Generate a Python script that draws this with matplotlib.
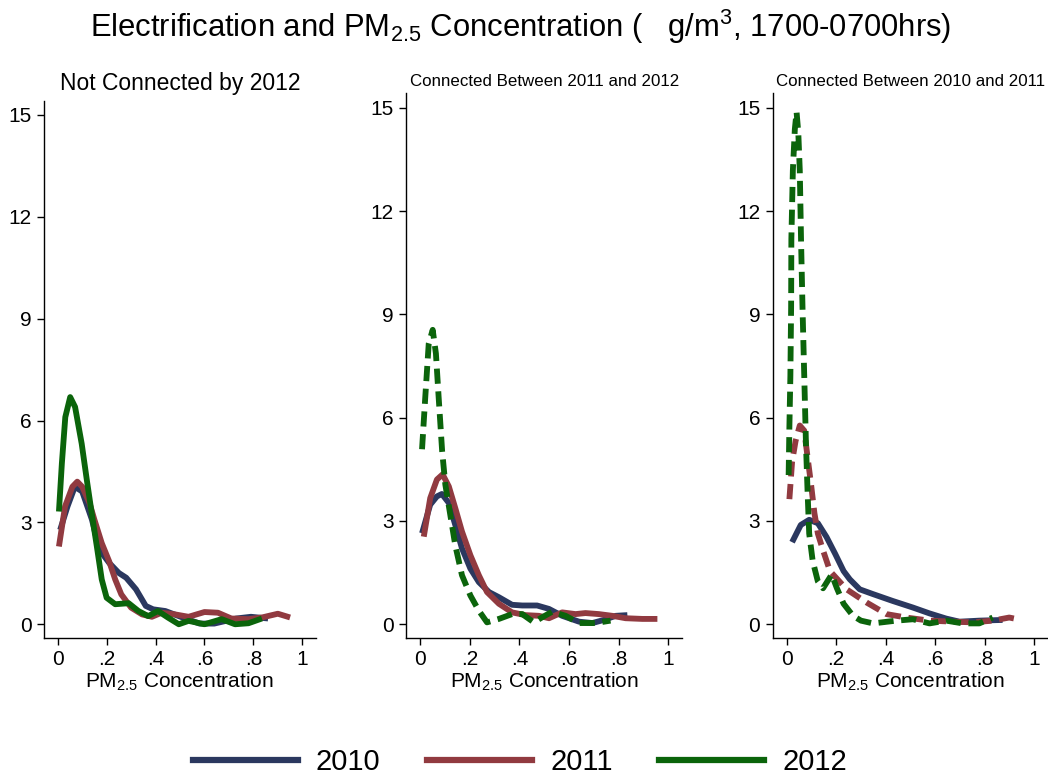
"""Kernel densities of PM2.5 by electrification group (Stata-style look)."""

import matplotlib

matplotlib.use("Agg")
import matplotlib.pyplot as plt
from matplotlib import font_manager
from matplotlib.lines import Line2D

names = {f.name for f in font_manager.fontManager.ttflist}
NARROW = "Liberation Sans Narrow" if "Liberation Sans Narrow" in names else "Liberation Sans"
# no condensed face -> shrink a bit so the width matches
TITLE_SIZE = 24 if NARROW.endswith("Narrow") else 22.3
LEGEND_SIZE = 23 if NARROW.endswith("Narrow") else 21

plt.rcParams["font.family"] = ["Liberation Sans", "DejaVu Sans"]
plt.rcParams["mathtext.default"] = "regular"

years = ["2010", "2011", "2012"]
colors = ["#2b385f", "#913a40", "#0b640b"]
panel_titles = ["Not Connected by 2012",
                "Connected Between 2011 and 2012",
                "Connected Between 2010 and 2011"]

# --- Not connected by 2012
nc_2010_x = [0.01, 0.04, 0.07, 0.10, 0.14, 0.17, 0.21, 0.25, 0.28, 0.32, 0.36, 0.39,
             0.44, 0.51, 0.58, 0.64, 0.73, 0.79, 0.86]
nc_2010_y = [2.78, 3.47, 4.05, 3.91, 3.08, 2.20, 1.81, 1.51, 1.37, 1.03, 0.54, 0.44,
             0.39, 0.20, 0.02, 0.02, 0.17, 0.22, 0.17]
nc_2011_x = [0.005, 0.03, 0.06, 0.08, 0.10, 0.13, 0.15, 0.18, 0.21, 0.235, 0.26, 0.30,
             0.345, 0.385, 0.425, 0.48, 0.535, 0.60, 0.655, 0.71, 0.78, 0.835, 0.90, 0.95]
nc_2011_y = [2.29, 3.47, 4.05, 4.20, 4.05, 3.57, 3.08, 2.39, 1.86, 1.32, 0.88, 0.49,
             0.29, 0.22, 0.34, 0.29, 0.22, 0.36, 0.34, 0.17, 0.15, 0.20, 0.31, 0.20]
nc_2012_x = [0.005, 0.017, 0.031, 0.051, 0.071, 0.098, 0.119, 0.139, 0.16, 0.18, 0.20,
             0.235, 0.29, 0.33, 0.37, 0.41, 0.45, 0.495, 0.535, 0.60, 0.67, 0.725, 0.78, 0.835]
nc_2012_y = [3.32, 4.74, 6.10, 6.69, 6.40, 5.32, 4.25, 3.27, 2.29, 1.32, 0.78,
             0.59, 0.62, 0.39, 0.24, 0.39, 0.20, 0.0, 0.10, 0.0, 0.15, 0.0, 0.03, 0.17]

# --- Connected between 2011 and 2012
c12_2010_x = [0.007, 0.04, 0.067, 0.087, 0.115, 0.141, 0.168, 0.202, 0.236, 0.277, 0.317,
              0.37, 0.411, 0.471, 0.519, 0.572, 0.64, 0.694, 0.74, 0.788, 0.835]
c12_2010_y = [2.64, 3.47, 3.71, 3.78, 3.52, 2.88, 2.20, 1.61, 1.22, 0.93, 0.78,
              0.56, 0.54, 0.54, 0.44, 0.24, 0.07, 0.03, 0.12, 0.24, 0.26]
c12_2011_x = [0.014, 0.04, 0.067, 0.09, 0.115, 0.141, 0.168, 0.202, 0.236, 0.269, 0.317,
              0.37, 0.424, 0.478, 0.519, 0.572, 0.626, 0.666, 0.72, 0.774, 0.828, 0.895, 0.956]
c12_2011_y = [2.54, 3.66, 4.20, 4.35, 4.00, 3.37, 2.69, 2.00, 1.42, 0.93, 0.59,
              0.34, 0.26, 0.24, 0.17, 0.34, 0.29, 0.32, 0.29, 0.24, 0.17, 0.15, 0.15]
c12_2012_x = [0.007, 0.02, 0.034, 0.05, 0.063, 0.074, 0.088, 0.101, 0.121, 0.141, 0.168,
              0.202, 0.236, 0.269, 0.317, 0.37, 0.411, 0.458, 0.492, 0.532, 0.586, 0.64,
              0.707, 0.767]
c12_2012_y = [5.08, 6.59, 8.15, 8.55, 7.86, 6.59, 5.03, 4.05, 3.17, 2.29, 1.42,
              0.83, 0.39, 0.05, 0.15, 0.29, 0.29, 0.05, 0.20, 0.36, 0.24, 0.03,
              0.03, 0.10]

# --- Connected between 2010 and 2011
c11_2010_x = [0.022, 0.057, 0.091, 0.126, 0.161, 0.196, 0.23, 0.255, 0.295, 0.349, 0.429,
              0.51, 0.577, 0.644, 0.698, 0.778, 0.872]
c11_2010_y = [2.38, 2.88, 3.03, 2.93, 2.53, 2.04, 1.54, 1.30, 1.01, 0.87, 0.67,
              0.48, 0.31, 0.16, 0.07, 0.10, 0.12]
c11_2011_x = [0.011, 0.022, 0.036, 0.053, 0.071, 0.085, 0.099, 0.112, 0.126, 0.147, 0.175,
              0.242, 0.322, 0.403, 0.483, 0.577, 0.671, 0.752, 0.832, 0.899, 0.933]
c11_2011_y = [3.63, 4.72, 5.32, 5.77, 5.62, 4.82, 4.03, 3.23, 2.63, 2.14, 1.54,
              1.01, 0.63, 0.29, 0.19, 0.10, 0.07, 0.05, 0.10, 0.19, 0.14]
c11_2012_x = [0.008, 0.011, 0.015, 0.018, 0.019, 0.025, 0.033, 0.040, 0.047, 0.053, 0.058,
              0.064, 0.071, 0.078, 0.085, 0.091, 0.105, 0.126, 0.147, 0.182, 0.203, 0.23,
              0.268, 0.30, 0.349, 0.443, 0.51, 0.577, 0.644, 0.711, 0.778, 0.832]
c11_2012_y = [4.33, 5.72, 7.21, 9.20, 11.19, 13.18, 14.38, 14.88, 14.28, 13.18, 11.19,
              9.20, 7.21, 5.22, 3.73, 2.63, 1.84, 1.24, 1.04, 1.44, 1.04, 0.59,
              0.24, 0.10, 0.02, 0.10, 0.14, 0.02, 0.10, 0.02, 0.02, 0.19]

y_ticks = [0, 3, 6, 9, 12, 15]
x_ticks = [0, 0.2, 0.4, 0.6, 0.8, 1.0]
x_tick_labels = ["0", ".2", ".4", ".6", ".8", "1"]

panels = [
    [(nc_2010_x, nc_2010_y, "solid"), (nc_2011_x, nc_2011_y, "solid"),
     (nc_2012_x, nc_2012_y, "solid")],
    [(c12_2010_x, c12_2010_y, "solid"), (c12_2011_x, c12_2011_y, "solid"),
     (c12_2012_x, c12_2012_y, "dashed")],
    [(c11_2010_x, c11_2010_y, "solid"), (c11_2011_x, c11_2011_y, "dashed"),
     (c11_2012_x, c11_2012_y, "dashed")],
]

# axes rectangles in figure fractions (left, bottom, width, height)
rects = [
    (0.0420, 0.1772, 0.2593, 0.6929),
    (0.3878, 0.1772, 0.2629, 0.7023),
    (0.7374, 0.1772, 0.2625, 0.7023),
]
title_sizes = [16.5, 12.2, 12.2]
title_pads = [7.5, 5, 5]

fig = plt.figure(figsize=(10.48, 7.75), dpi=100)

for i, (series, rect) in enumerate(zip(panels, rects)):
    ax = fig.add_axes(rect)
    for (xs, ys, style), c in zip(series, colors):
        line, = ax.plot(xs, ys, color=c, lw=4.2, solid_capstyle="butt",
                        solid_joinstyle="round")
        if style == "dashed":
            line.set_dashes((2.6, 1.3))
            line.set_dash_capstyle("butt")
    ax.set_xlim(-0.056, 1.055)
    ax.set_ylim(-0.395, 15.42)
    ax.set_yticks(y_ticks)
    ax.set_xticks(x_ticks)
    ax.set_xticklabels(x_tick_labels)
    ax.tick_params(labelsize=15, length=5, width=1, direction="out", pad=4)
    for s in ("top", "right"):
        ax.spines[s].set_visible(False)
    for s in ("left", "bottom"):
        ax.spines[s].set_linewidth(1)
    ax.set_xlabel("PM$_{2.5}$ Concentration", fontsize=15, labelpad=1)
    ax.set_title(panel_titles[i], fontsize=title_sizes[i], pad=title_pads[i])

fig.text(0.497, 0.952,
         "Electrification and PM$_{2.5}$ Concentration (   g/m$^{3}$, 1700-0700hrs)",
         ha="center", va="baseline", fontsize=TITLE_SIZE, family=[NARROW, "DejaVu Sans"])

handles = [Line2D([], [], color=c, lw=4.5) for c in colors]
fig.legend(handles, years, loc="center", bbox_to_anchor=(0.496, 0.017), ncol=3,
           frameon=False, handlelength=3.6, handletextpad=0.62, columnspacing=1.6,
           prop={"family": [NARROW, "DejaVu Sans"], "size": LEGEND_SIZE})

fig.savefig("out.png", dpi=100)
